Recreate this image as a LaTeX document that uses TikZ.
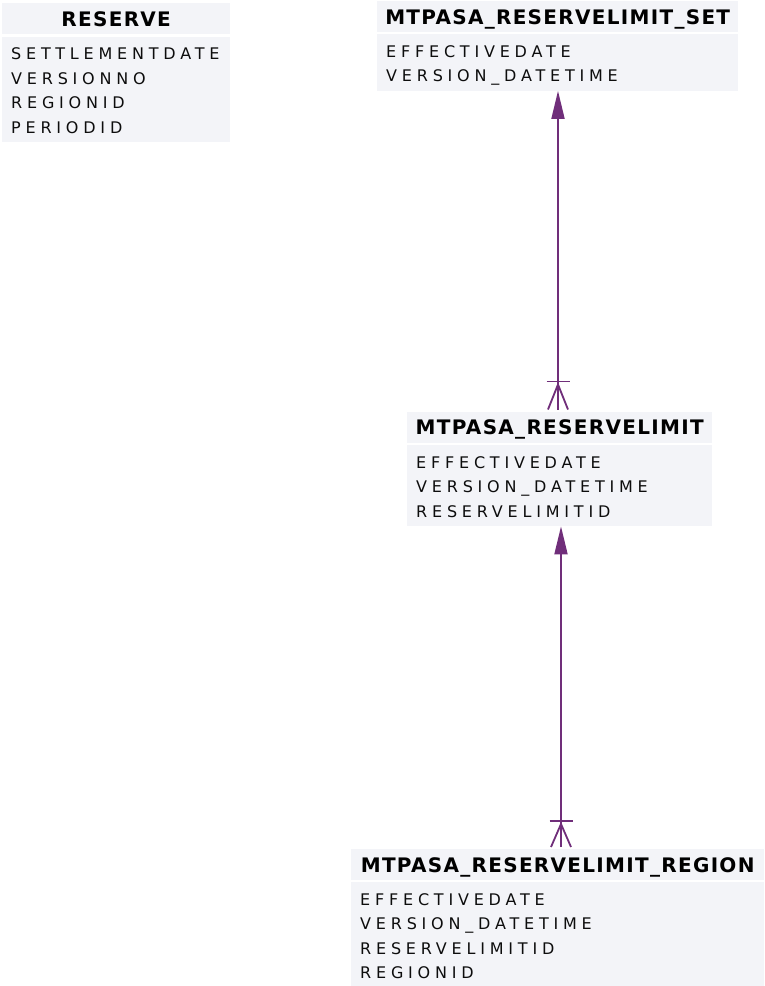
\documentclass[tikz,border=0pt]{standalone}
\usepackage{fontspec}
\setmainfont{DejaVu Sans}
\newfontfamily\hdrfont{DejaVu Sans}[LetterSpace=6.5]
\newfontfamily\colfont{DejaVu Sans}[LetterSpace=30]
\usetikzlibrary{arrows.meta}
\definecolor{tblfill}{RGB}{243,244,248}
\definecolor{relcolor}{RGB}{112,46,122}
\tikzset{
	tblhead/.style={rectangle, fill=tblfill, anchor=north west, inner sep=0pt, minimum height=31pt, text height=15pt, text depth=0pt, font=\hdrfont\bfseries\fontsize{20}{24}\selectfont, text=black},
	tblbody/.style={rectangle, fill=tblfill, anchor=north west, inner xsep=9pt, inner ysep=9pt, text height=14pt, align=left, font=\colfont\fontsize{16}{24.5}\selectfont, text=black!95},
	relline/.style={draw=relcolor, line width=1.8pt}
}
\begin{document}
\begin{tikzpicture}[x=1pt,y=-1pt]
	\useasboundingbox (0,0) rectangle (764,986);
	
	\node[tblhead, minimum width=228pt] (reservehead) at (2,3) {RESERVE};
	\node[tblbody, text width=210pt, text depth=73.5pt] (reservebody) at (2,36.5) {SETTLEMENTDATE\\VERSIONNO\\REGIONID\\PERIODID};
	
	\node[tblhead, minimum width=361pt] (sethead) at (377,1) {MTPASA\_RESERVELIMIT\_SET};
	\node[tblbody, text width=343pt, text depth=24.5pt] (setbody) at (377,34) {EFFECTIVEDATE\\VERSION\_DATETIME};
	
	\node[tblhead, minimum width=305pt] (limithead) at (407,411.5) {MTPASA\_RESERVELIMIT};
	\node[tblbody, text width=287pt, text depth=49pt] (limitbody) at (407,445) {EFFECTIVEDATE\\VERSION\_DATETIME\\RESERVELIMITID};
	
	\node[tblhead, minimum width=413pt] (regionhead) at (351,849) {MTPASA\_RESERVELIMIT\_REGION};
	\node[tblbody, text width=395pt, text depth=73.5pt] (regionbody) at (351,882) {EFFECTIVEDATE\\VERSION\_DATETIME\\RESERVELIMITID\\REGIONID};
	
	\coordinate (lineA) at (558,0);
	\coordinate (lineB) at (561,0);
	\coordinate (footA) at (limithead.north -| lineA);
	\coordinate (footB) at (regionhead.north -| lineB);
	
	\draw[relline, -{Triangle[length=28pt,width=13pt]}] ([yshift=2pt]footA) -- (setbody.south -| lineA);
	\draw[relline] ([xshift=-11.5pt,yshift=30pt]footA) -- ([xshift=11.5pt,yshift=30pt]footA);
	\draw[relline] ([yshift=27pt]footA) -- ([xshift=-10pt,yshift=2pt]footA);
	\draw[relline] ([yshift=27pt]footA) -- ([xshift=10pt,yshift=2pt]footA);
	
	\draw[relline, -{Triangle[length=28pt,width=13pt]}] ([yshift=2pt]footB) -- (limitbody.south -| lineB);
	\draw[relline] ([xshift=-11.5pt,yshift=28pt]footB) -- ([xshift=11.5pt,yshift=28pt]footB);
	\draw[relline] ([yshift=25pt]footB) -- ([xshift=-10pt,yshift=2pt]footB);
	\draw[relline] ([yshift=25pt]footB) -- ([xshift=10pt,yshift=2pt]footB);
\end{tikzpicture}
\end{document}
